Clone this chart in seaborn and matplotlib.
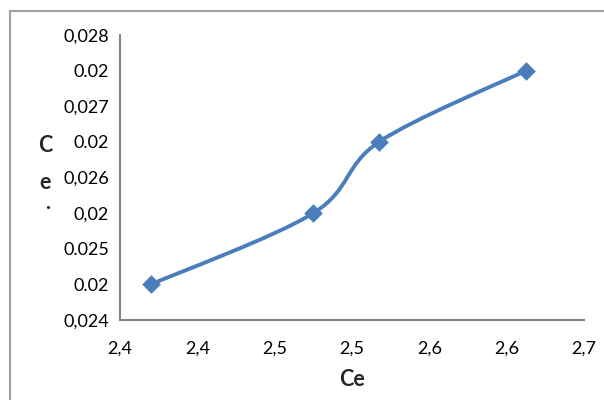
import numpy as np
import pandas as pd
import matplotlib
matplotlib.use("Agg")
import matplotlib.pyplot as plt
from matplotlib.path import Path
from matplotlib.patches import PathPatch
from matplotlib.lines import Line2D
import seaborn as sns

# Measured points
ce = [2.42, 2.525, 2.5675, 2.6625]
qe = [0.0245, 0.0255, 0.0265, 0.0275]

x_ticks = [2.40, 2.45, 2.50, 2.55, 2.60, 2.65, 2.70]
x_tick_labels = ["2,4", "2,4", "2,5", "2,5", "2,6", "2,6", "2,7"]
y_ticks = [0.0240, 0.0245, 0.0250, 0.0255, 0.0260, 0.0265, 0.0270, 0.0275, 0.0280]
y_tick_labels = ["0,024", "0.02", "0.025", "0,02", "0,026", "0.02", "0,027", "0.02", "0,028"]

sns.set_theme(style="white")
plt.rcParams["font.family"] = ["Lato", "DejaVu Sans"]

LINE = "#4A7EBB"
AXIS = "#868686"

fig = plt.figure(figsize=(6.04, 4.00), dpi=100)
ax = fig.add_axes([120 / 604, 80 / 400, 464 / 604, 285 / 400])

df = pd.DataFrame({"Ce": ce, "qe": qe})

# Smoothed line: cubic Bezier segments with Catmull-Rom style control points
pts = np.column_stack([df["Ce"].to_numpy(), df["qe"].to_numpy()])
n = len(pts)
verts = [tuple(pts[0])]
codes = [Path.MOVETO]
for i in range(n - 1):
    p_prev = pts[i - 1] if i > 0 else pts[i]
    p_next2 = pts[i + 2] if i + 2 < n else pts[i + 1]
    c1 = pts[i] + (pts[i + 1] - p_prev) / 6.0
    c2 = pts[i + 1] - (p_next2 - pts[i]) / 6.0
    verts += [tuple(c1), tuple(c2), tuple(pts[i + 1])]
    codes += [Path.CURVE4] * 3
ax.add_patch(PathPatch(Path(verts, codes), facecolor="none", edgecolor=LINE,
                       lw=2.8, capstyle="round", joinstyle="round", zorder=2))

sns.scatterplot(data=df, x="Ce", y="qe", ax=ax, marker="D", s=90,
                color=LINE, edgecolor=LINE, linewidth=0, zorder=3, legend=False)

ax.set_xlim(2.40, 2.70)
ax.set_ylim(0.0240, 0.0280)
ax.set_xticks(x_ticks, x_tick_labels)
ax.set_yticks(y_ticks, y_tick_labels)

for side in ("top", "right"):
    ax.spines[side].set_visible(False)
for side in ("left", "bottom"):
    ax.spines[side].set_color(AXIS)
    ax.spines[side].set_linewidth(1.5)
ax.tick_params(axis="both", which="major", direction="out", length=5, width=1.5,
               color=AXIS, labelsize=13, labelcolor="black", pad=5)
ax.tick_params(axis="x", pad=10)
ax.tick_params(axis="y", pad=3)
ax.set_xlabel("Ce", fontsize=15.5, fontweight="bold", labelpad=9)
ax.set_ylabel("")

# Stacked, clipped vertical axis title
fig.text(45 / 604, 1 - 145 / 400, "C", fontsize=15.5, fontweight="bold",
         ha="center", va="center")
fig.text(45 / 604, 1 - 182 / 400, "e", fontsize=15.5, fontweight="bold",
         ha="center", va="center")
fig.text(48 / 604, 1 - 203 / 400, ".", fontsize=15.5, fontweight="bold",
         ha="center", va="center")

# Chart area frame (top and left edges)
fig.add_artist(Line2D([10 / 604, 1.0], [1 - 11 / 400, 1 - 11 / 400],
                      transform=fig.transFigure, color="#A0A0A0", lw=1.5))
fig.add_artist(Line2D([10 / 604, 10 / 604], [0.0, 1 - 11 / 400],
                      transform=fig.transFigure, color="#A0A0A0", lw=1.5))

fig.savefig("out.png", dpi=100)
